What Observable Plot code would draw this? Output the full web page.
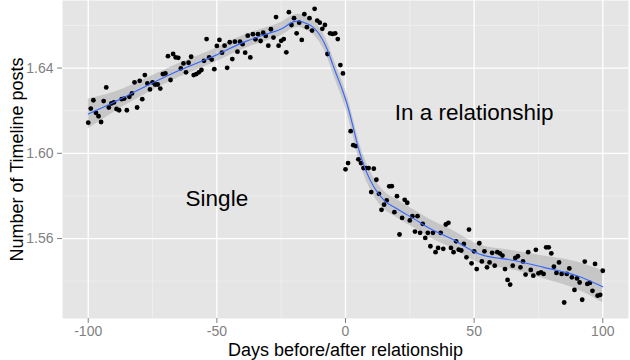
<!DOCTYPE html>
<html>
<head>
<meta charset="utf-8">
<script src="https://cdn.jsdelivr.net/npm/d3@7"></script>
<script src="https://cdn.jsdelivr.net/npm/@observablehq/plot@0.6"></script>
<style>
  html, body { margin: 0; padding: 0; background: #ffffff; }
  #chart svg { display: block; }
</style>
</head>
<body>
<div id="chart"></div>
<script>
// Daily average number of Timeline posts, days -100 .. 100
const firstDay = -100;
const posts = [
  1.6144,1.6210,1.6249,1.6190,1.6174,1.6147,1.6245,1.6309,1.6215,1.6234,
  1.6239,1.6208,1.6202,1.6254,1.6257,1.6202,1.6265,1.6281,1.6333,1.6215,
  1.6340,1.6254,1.6367,1.6328,1.6300,1.6333,1.6323,1.6323,1.6304,1.6372,
  1.6375,1.6456,1.6344,1.6466,1.6450,1.6448,1.6399,1.6422,1.6380,1.6425,
  1.6453,1.6367,1.6372,1.6380,1.6391,1.6434,1.6536,1.6450,1.6440,1.6395,
  1.6504,1.6532,1.6472,1.6505,1.6401,1.6521,1.6442,1.6524,1.6477,1.6524,
  1.6512,1.6472,1.6552,1.6450,1.6559,1.6535,1.6559,1.6527,1.6566,1.6551,
  1.6505,1.6582,1.6543,1.6639,1.6505,1.6528,1.6536,1.6474,1.6662,1.6602,
  1.6634,1.6563,1.6613,1.6532,1.6653,1.6592,1.6634,1.6576,1.6678,1.6623,
  1.6613,1.6584,1.6602,1.6466,1.6563,1.6560,1.6563,1.6536,1.6414,1.6375,
  1.5925,1.5954,1.6104,1.6038,1.6034,1.5972,1.5954,1.5931,1.5931,1.5931,
  1.5818,1.5928,1.5876,1.5810,1.5735,1.5759,1.5779,1.5845,1.5846,1.5724,
  1.5799,1.5619,1.5697,1.5782,1.5768,1.5685,1.5705,1.5633,1.5705,1.5627,
  1.5669,1.5603,1.5627,1.5564,1.5627,1.5536,1.5556,1.5627,1.5552,1.5666,
  1.5674,1.5556,1.5536,1.5587,1.5548,1.5544,1.5575,1.5512,1.5642,1.5484,
  1.5540,1.5457,1.5578,1.5493,1.5540,1.5465,1.5488,1.5533,1.5473,1.5536,
  1.5531,1.5520,1.5457,1.5406,1.5384,1.5473,1.5509,1.5517,1.5465,1.5493,
  1.5431,1.5536,1.5453,1.5426,1.5547,1.5437,1.5441,1.5434,1.5559,1.5559,
  1.5531,1.5468,1.5439,1.5488,1.5434,1.5300,1.5434,1.5460,1.5418,1.5359,
  1.5413,1.5394,1.5313,1.5492,1.5387,1.5392,1.5355,1.5481,1.5332,1.5336,
  1.5449
];

// Smoothed fit and its band half-width
const smoothDays = [-100,-90,-78,-65,-52,-39,-30,-25,-20,-18,-16,-14,-12,-10,-7,-5,-4,-1,1,3,5,8,11,15,20,27,33,41,52,66,77,90,100];
const smoothFit  = [1.6185,1.6240,1.6312,1.6387,1.6452,1.6524,1.6562,1.6583,1.6618,1.6621,1.6613,1.6603,1.6585,1.6555,1.6485,1.6418,1.6385,1.6290,1.6215,1.6122,1.6024,1.5917,1.5843,1.5779,1.5740,1.5690,1.5646,1.5600,1.5528,1.5496,1.5465,1.5426,1.5374];
const smoothSe   = [0.0070,0.0047,0.0036,0.0033,0.0032,0.0032,0.0031,0.0031,0.0031,0.0031,0.0031,0.0032,0.0033,0.0034,0.0036,0.0037,0.0038,0.0040,0.0041,0.0042,0.0042,0.0042,0.0042,0.0042,0.0042,0.0042,0.0042,0.0043,0.0043,0.0046,0.0053,0.0064,0.0075];

// Axis ticks
const xTicks = [-100, -50, 0, 50, 100];
const xMinor = [-75, -25, 25, 75];
const yTicks = [1.56, 1.60, 1.64];
const yMinor = [1.54, 1.58, 1.62, 1.66];

// Annotations
const noteText  = ["Single", "In a relationship"];
const noteDay   = [-50, 50];
const noteValue = [1.5788, 1.6191];

const xTitle = "Days before/after relationship";
const yTitle = "Number of Timeline posts";

const points = posts.map((v, i) => ({day: firstDay + i, value: v}));
const smooth = smoothDays.map((d, i) => ({day: d, fit: smoothFit[i], se: smoothSe[i]}));
const notes = noteText.map((t, i) => ({text: t, day: noteDay[i], value: noteValue[i]}));

const font = "'Liberation Sans', Arial, Helvetica, sans-serif";

const chart = Plot.plot({
  width: 630,
  height: 360,
  marginLeft: 62,
  marginRight: 2,
  marginTop: 0,
  marginBottom: 42,
  style: {fontFamily: font, background: "#ffffff", overflow: "visible"},
  x: {domain: [-110, 110]},
  y: {domain: [1.5225, 1.6717]},
  marks: [
    Plot.frame({fill: "#E5E5E5", stroke: null}),
    Plot.gridX(xMinor, {stroke: "#F2F2F2", strokeOpacity: 1, strokeWidth: 0.7}),
    Plot.gridY(yMinor, {stroke: "#F2F2F2", strokeOpacity: 1, strokeWidth: 0.7}),
    Plot.gridX(xTicks, {stroke: "#ffffff", strokeOpacity: 1, strokeWidth: 1.3}),
    Plot.gridY(yTicks, {stroke: "#ffffff", strokeOpacity: 1, strokeWidth: 1.3}),
    Plot.areaY(smooth, {x: "day", y1: d => d.fit - d.se, y2: d => d.fit + d.se,
      fill: "#999999", fillOpacity: 0.4, curve: "monotone-x"}),
    Plot.dot(points, {x: "day", y: "value", r: 2.4, fill: "#000000", stroke: null}),
    Plot.lineY(smooth, {x: "day", y: "fit", stroke: "#3366FF", strokeWidth: 1.1, curve: "monotone-x"}),
    Plot.axisX({ticks: xTicks, tickSize: 5, tickPadding: 3, fontSize: 14,
      color: "#7F7F7F", label: null, tickFormat: d => String(d).replace("-", "-")}),
    Plot.axisY({ticks: yTicks, tickSize: 5, tickPadding: 4, fontSize: 14,
      color: "#7F7F7F", label: null, tickFormat: d3.format(".2f")}),
    Plot.text(notes, {x: "day", y: "value", text: "text", fontSize: 22.5,
      fill: "#000000", textAnchor: "middle", lineAnchor: "middle"}),
    Plot.text([xTitle], {frameAnchor: "bottom", dy: 32, fontSize: 18,
      fill: "#000000", textAnchor: "middle", lineAnchor: "middle"}),
    Plot.text([yTitle], {frameAnchor: "left", dx: -45, rotate: -90, fontSize: 18,
      fill: "#000000", textAnchor: "middle", lineAnchor: "middle"})
  ]
});
document.getElementById("chart").appendChild(chart);
</script>
</body>
</html>
